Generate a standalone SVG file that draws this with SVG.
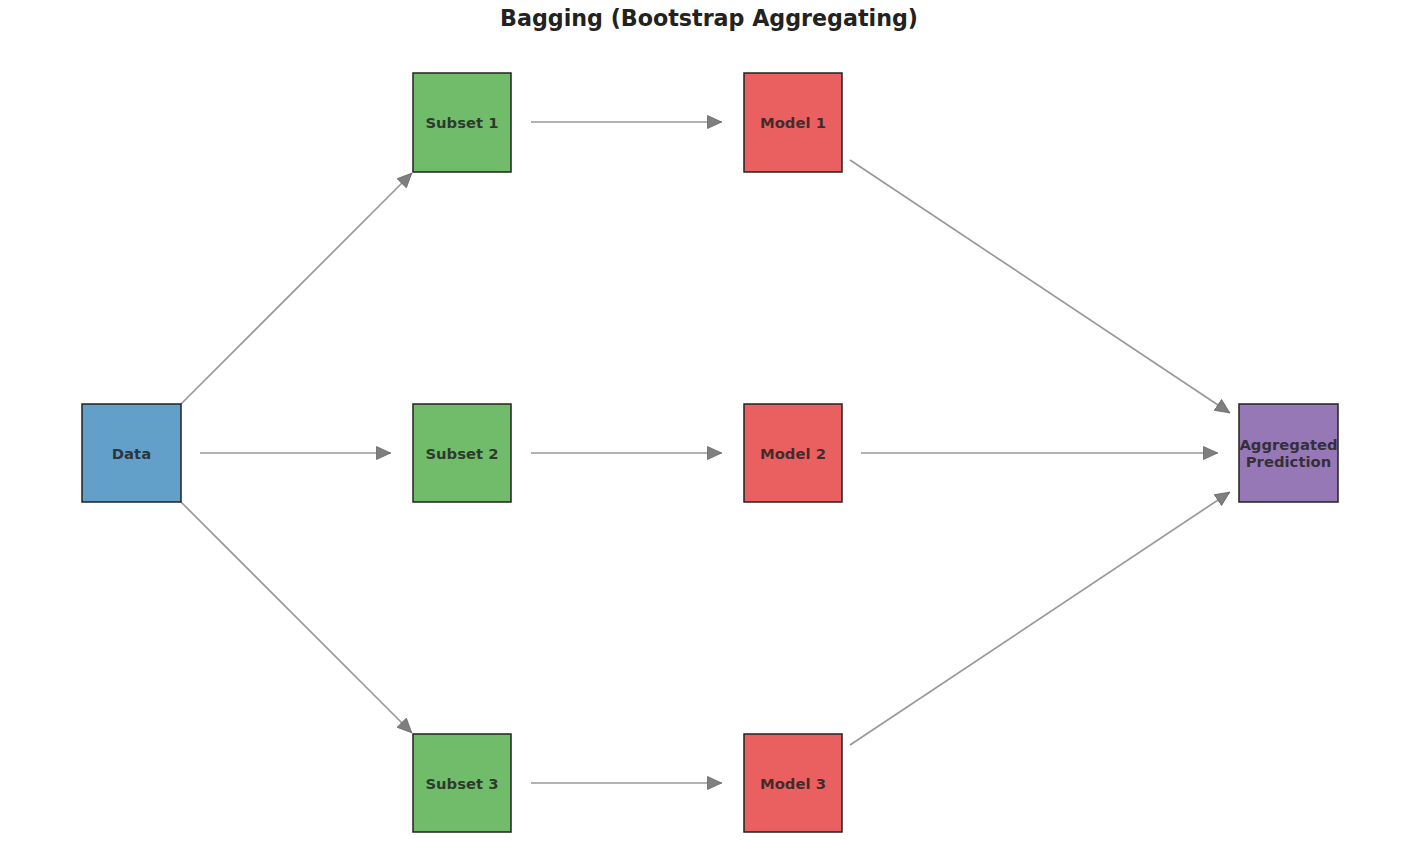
<svg xmlns="http://www.w3.org/2000/svg" width="1420" height="863" viewBox="0 0 1420 863">
<defs>
<style>
.box{stroke:#222;stroke-width:1.5}
.lbl{font-family:"DejaVu Sans",sans-serif;font-weight:bold;font-size:14.8px;fill:#222;fill-opacity:0.85;text-anchor:middle}
.title{font-family:"DejaVu Sans",sans-serif;font-weight:bold;font-size:22.2px;fill:#222;text-anchor:middle}
.edge{stroke:#999;stroke-width:1.7;fill:none;marker-end:url(#ah)}
</style>
<marker id="ah" viewBox="0 0 15 14" refX="15" refY="7" markerWidth="15" markerHeight="14" markerUnits="userSpaceOnUse" orient="auto">
<path d="M0.5,0.5 L14.5,7 L0.5,13.5 Z" fill="#7f7f7f" stroke="#666" stroke-width="0.8"/>
</marker>
</defs>
<rect width="1420" height="863" fill="#fff"/>
<text class="title" x="709" y="26">Bagging (Bootstrap Aggregating)</text>
<g id="connectors">
<line class="edge" x1="200" y1="453" x2="391" y2="453"/>
<line class="edge" x1="181" y1="404" x2="412" y2="173"/>
<line class="edge" x1="181" y1="502" x2="412" y2="733"/>
<line class="edge" x1="531" y1="122" x2="722" y2="122"/>
<line class="edge" x1="531" y1="453" x2="722" y2="453"/>
<line class="edge" x1="531" y1="783" x2="722" y2="783"/>
<line class="edge" x1="850" y1="160" x2="1230" y2="413"/>
<line class="edge" x1="861" y1="453" x2="1218" y2="453"/>
<line class="edge" x1="850" y1="745" x2="1230" y2="492"/>
</g>
<g id="data"><rect class="box" x="82" y="404" width="99" height="98" fill="#62A0CA"/><text class="lbl" x="131.5" y="458.5">Data</text></g>
<g id="subset1"><rect class="box" x="413" y="73" width="98" height="99" fill="#70BC6A"/><text class="lbl" x="462" y="128">Subset 1</text></g>
<g id="subset2"><rect class="box" x="413" y="404" width="98" height="98" fill="#70BC6A"/><text class="lbl" x="462" y="458.5">Subset 2</text></g>
<g id="subset3"><rect class="box" x="413" y="734" width="98" height="98" fill="#70BC6A"/><text class="lbl" x="462" y="789">Subset 3</text></g>
<g id="model1"><rect class="box" x="744" y="73" width="98" height="99" fill="#EA5F60"/><text class="lbl" x="793" y="128">Model 1</text></g>
<g id="model2"><rect class="box" x="744" y="404" width="98" height="98" fill="#EA5F60"/><text class="lbl" x="793" y="458.5">Model 2</text></g>
<g id="model3"><rect class="box" x="744" y="734" width="98" height="98" fill="#EA5F60"/><text class="lbl" x="793" y="789">Model 3</text></g>
<g id="aggregated"><rect class="box" x="1239" y="404" width="99" height="98" fill="#9678B6"/><text class="lbl" x="1288.5" y="450">Aggregated</text><text class="lbl" x="1288.5" y="467">Prediction</text></g>
</svg>
